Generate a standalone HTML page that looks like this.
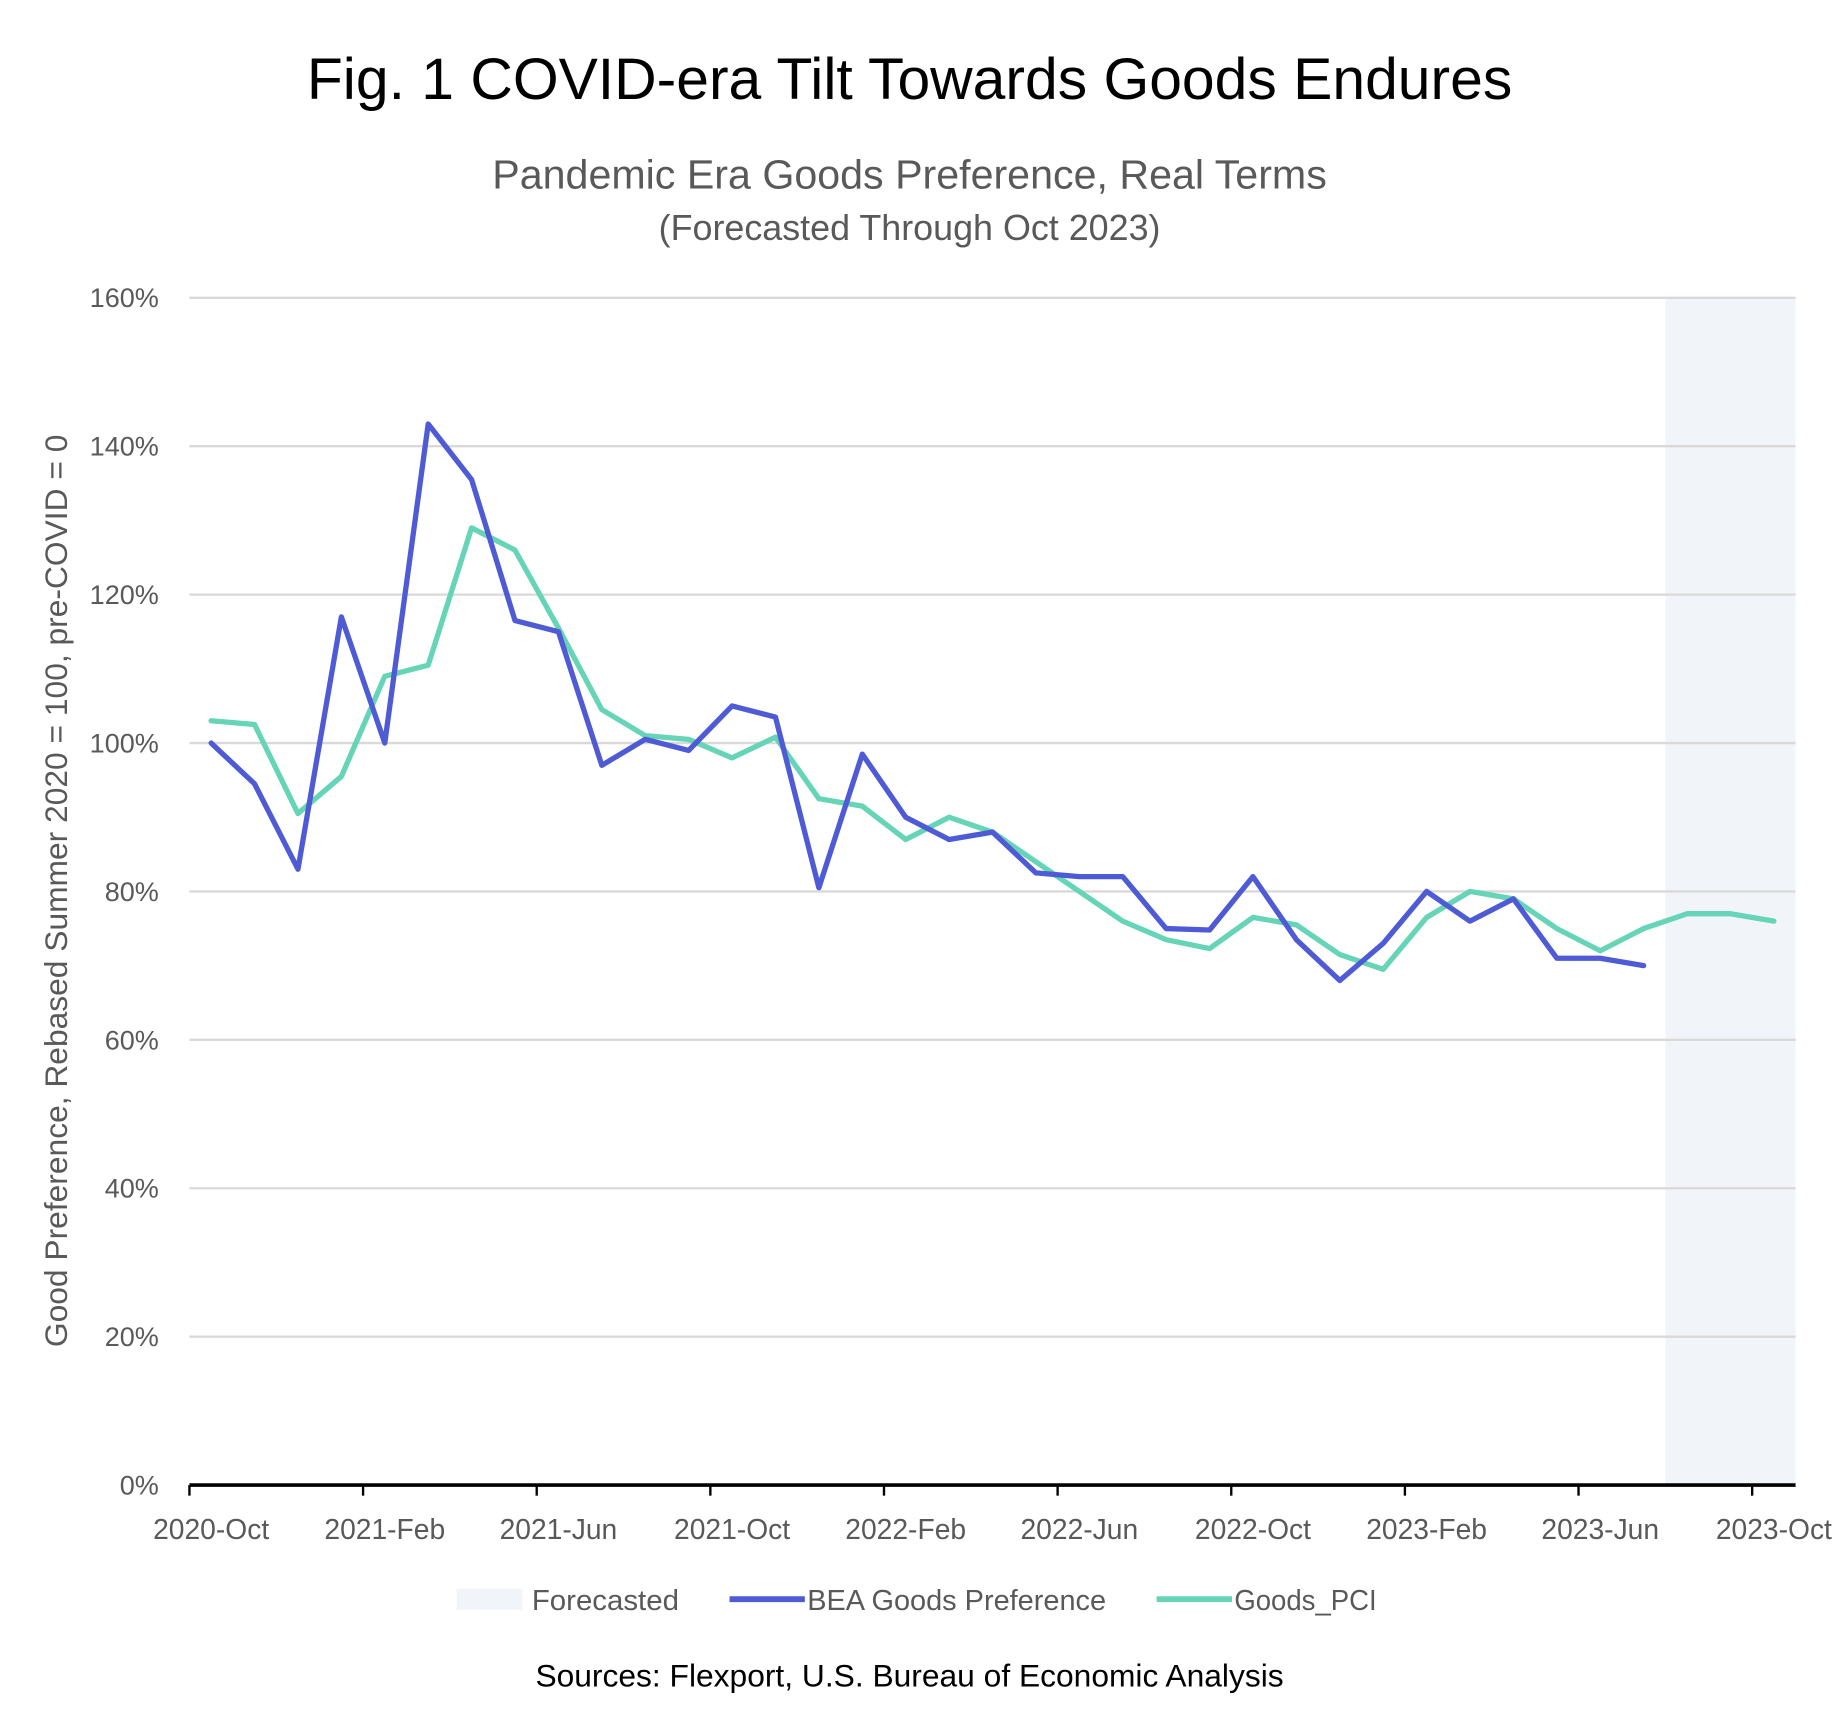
<!DOCTYPE html>
<html><head><meta charset="utf-8"><style>
html,body{margin:0;padding:0;background:#fff;}
svg{display:block;font-family:"Liberation Sans",sans-serif;}
</style></head><body>
<svg id="chart" width="1845" height="1717" viewBox="0 0 1568 1459" xmlns="http://www.w3.org/2000/svg">
<text x="773" y="84" text-anchor="middle" font-size="50" fill="#000">Fig. 1 COVID-era Tilt Towards Goods Endures</text>
<text x="773" y="160" text-anchor="middle" font-size="35" fill="#595959">Pandemic Era Goods Preference, Real Terms</text>
<text x="773" y="204" text-anchor="middle" font-size="30.5" fill="#595959">(Forecasted Through Oct 2023)</text>
<text transform="translate(57,757) rotate(-90)" text-anchor="middle" font-size="27" fill="#595959">Good Preference, Rebased Summer 2020 = 100, pre-COVID = 0</text>
<g id="plot"></g>
<g>
<rect x="388" y="1350" width="56" height="18" fill="#f1f5f9"/>
<text x="452" y="1368" font-size="24.5" fill="#595959" textLength="125" lengthAdjust="spacingAndGlyphs">Forecasted</text>
<line x1="620" y1="1359" x2="684" y2="1359" stroke="#4f5bd5" stroke-width="5"/>
<text x="686" y="1368" font-size="24.5" fill="#595959" textLength="254" lengthAdjust="spacingAndGlyphs">BEA Goods Preference</text>
<line x1="983" y1="1359" x2="1047" y2="1359" stroke="#66d4b6" stroke-width="5"/>
<text x="1049" y="1368" font-size="24.5" fill="#595959" textLength="121" lengthAdjust="spacingAndGlyphs">Goods_PCI</text>
</g>
<text x="773" y="1433" text-anchor="middle" font-size="27" fill="#000">Sources: Flexport, U.S. Bureau of Economic Analysis</text>
</svg>
<script>
const months = ["Oct","Nov","Dec","Jan","Feb","Mar","Apr","May","Jun","Jul","Aug","Sep"];
const startYear = 2020;
const nCats = 37;
const forecastStart = 34;
const beaValues = [100,94.5,83,117,100,143,135.5,116.5,115,97,100.5,99,105,103.5,80.5,98.5,90,87,88,82.5,82,82,75,74.8,82,73.5,68,73,80,76,79,71,71,70];
const pciValues = [103,102.5,90.5,95.5,109,110.5,129,126,115.5,104.5,101,100.5,98,100.8,92.5,91.5,87,90,88,84,80,76,73.5,72.3,76.5,75.5,71.5,69.5,76.5,80,79,75,72,75,77,77,76];
const yTicks = [0,20,40,60,80,100,120,140,160];
const xLabelEvery = 4;

const NS="http://www.w3.org/2000/svg";
const plot=document.getElementById('plot');
const L=161,R=1526,T=253,B=1262,yMax=160;
const bw=(R-L)/nCats;
const xC=i=>L+(i+0.5)*bw;
const xB=i=>L+i*bw;
const y=v=>B-(v/yMax)*(B-T);
function mk(tag,attrs){const e=document.createElementNS(NS,tag);for(const k in attrs)e.setAttribute(k,attrs[k]);plot.appendChild(e);return e;}

const fr=mk('rect',{x:xB(forecastStart),y:T,width:xB(nCats)-xB(forecastStart),height:B-T,fill:'#f1f5f9'});



yTicks.forEach(v=>{
  if(v>0){const g=mk('line',{x1:L,x2:R,y1:y(v),y2:y(v),stroke:'#d9d9d9','stroke-width':2});
  
  }
  const t=mk('text',{x:135,y:y(v)+8,'text-anchor':'end','font-size':23,fill:'#595959'});
  t.textContent=v+'%';
  
  
});

const ax=mk('line',{x1:L,x2:R,y1:B,y2:B,stroke:'#000','stroke-width':3});


for(let i=0;i<nCats;i+=xLabelEvery){
  const tk=mk('line',{x1:xB(i),x2:xB(i),y1:B,y2:B+9,stroke:'#000','stroke-width':2});
  
  
  const yr=startYear+Math.floor((i+9)/12);
  const lbl=mk('text',{x:xC(i),y:B+46,'text-anchor':'middle','font-size':24,fill:'#595959'});
  lbl.textContent=yr+'-'+months[i%12];
  
  
}

function line(vals,color,name){
  const p=mk('polyline',{points:vals.map((v,i)=>xC(i)+','+y(v)).join(' '),fill:'none',stroke:color,'stroke-width':4.5,'stroke-linejoin':'round','stroke-linecap':'round'});
  
  
}
line(pciValues,'#66d4b6','goods-pci-line');
line(beaValues,'#4f5bd5','bea-goods-preference-line');
</script>
</body></html>
